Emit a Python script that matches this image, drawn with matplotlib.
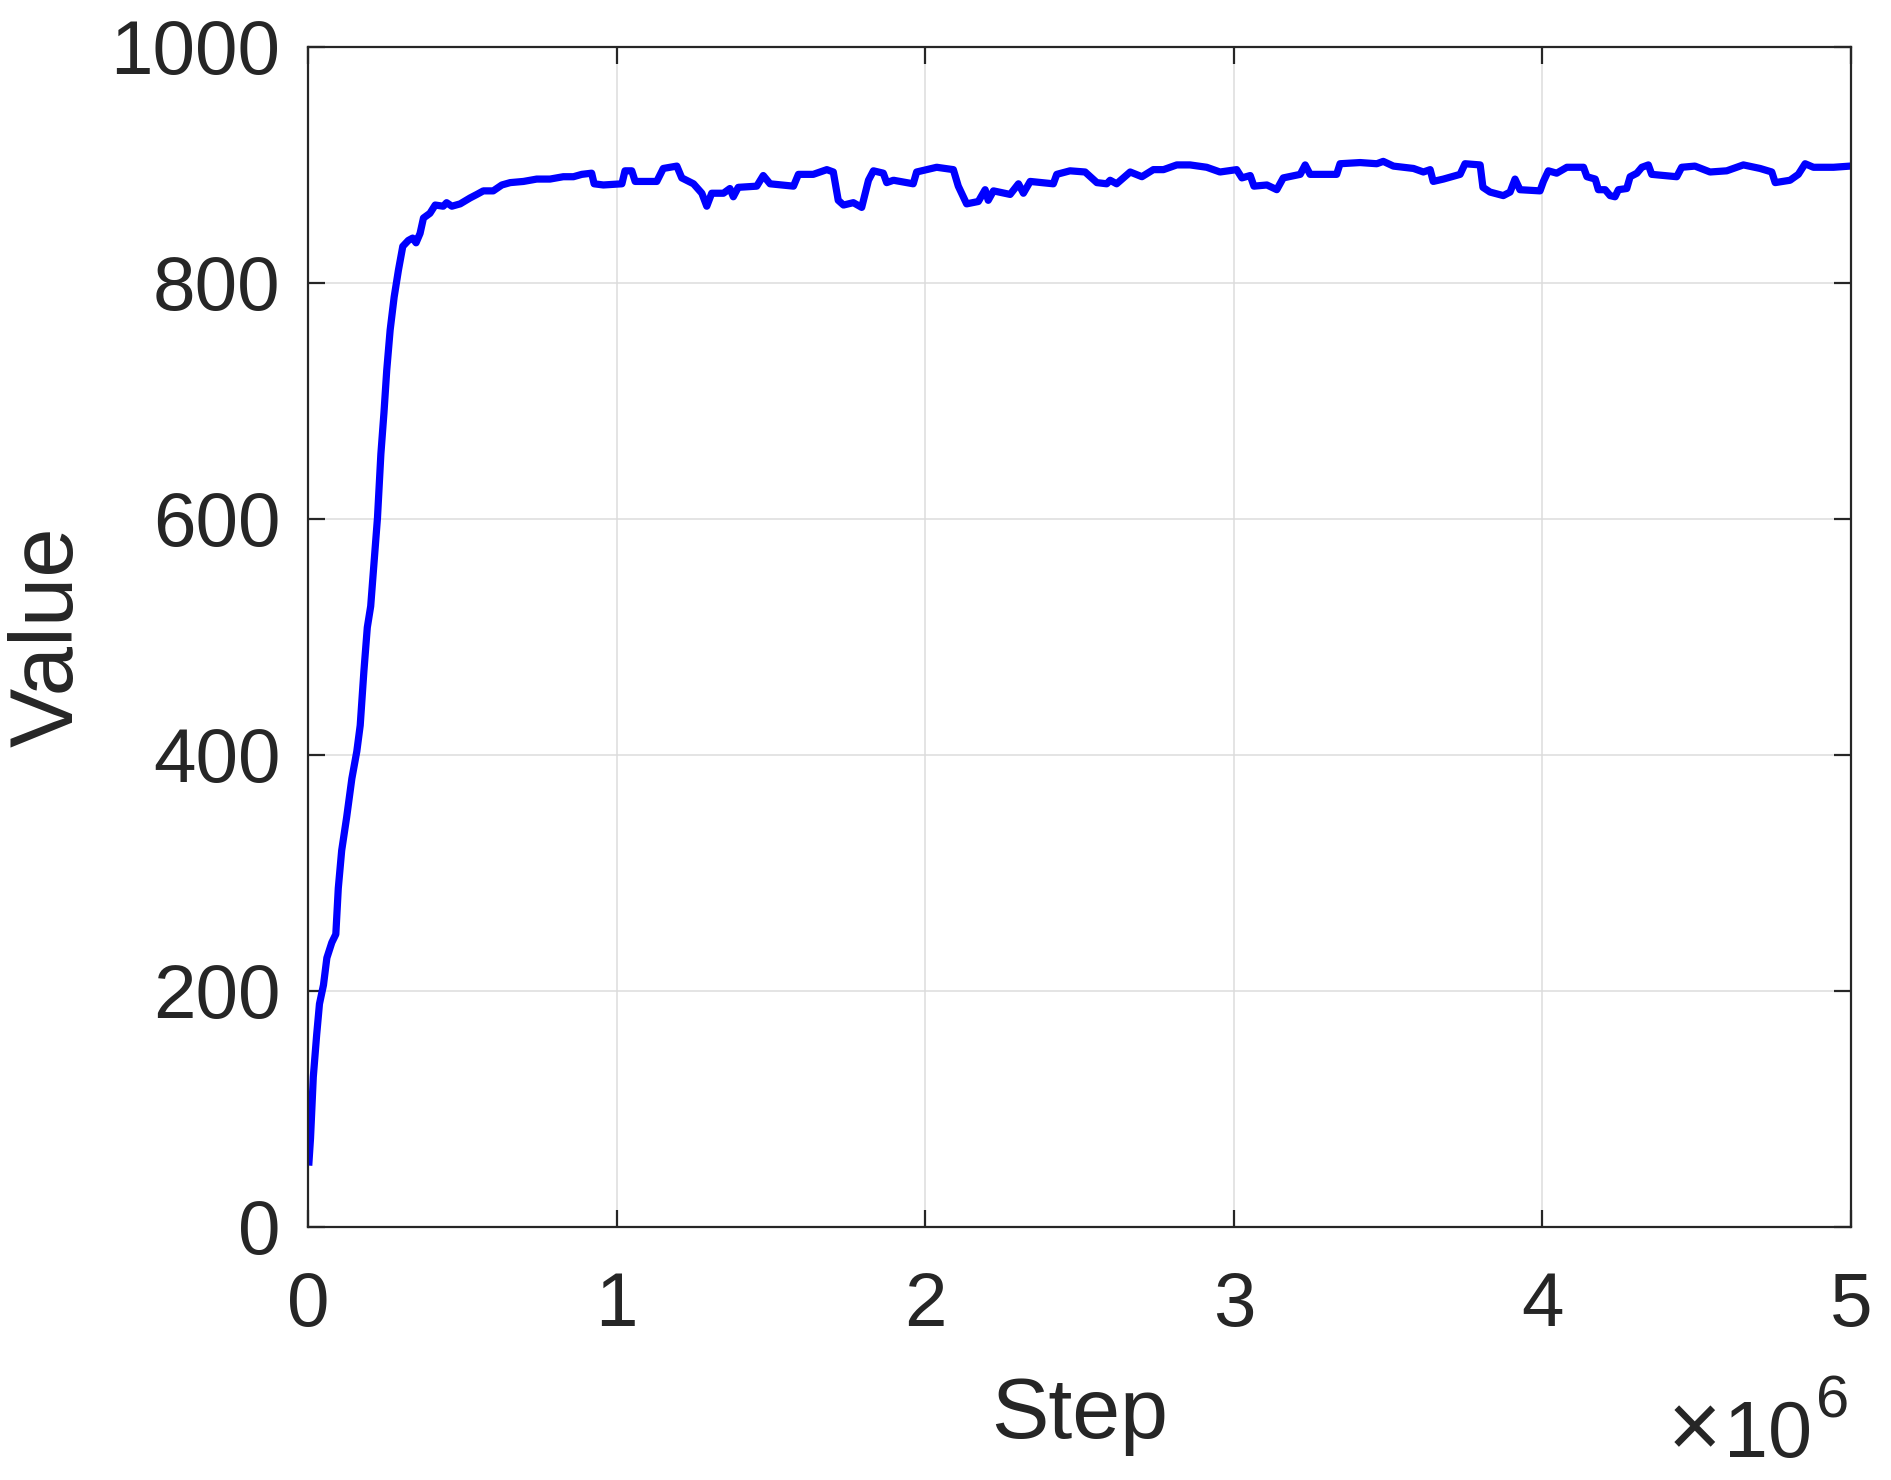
import numpy as np
import matplotlib
matplotlib.use("Agg")
import matplotlib.pyplot as plt
from matplotlib.ticker import FuncFormatter

plt.rcParams["font.family"] = ["Liberation Sans", "DejaVu Sans"]

# training curve, step in millions
step_m = [
    0.003, 0.008, 0.012, 0.017, 0.028, 0.037, 0.050, 0.061, 0.077, 0.090,
    0.098, 0.109, 0.125, 0.142, 0.158, 0.169, 0.181, 0.192, 0.203, 0.214,
    0.225, 0.236, 0.246, 0.255, 0.266, 0.279, 0.293, 0.307, 0.325, 0.339,
    0.350, 0.363, 0.374, 0.395, 0.412, 0.438, 0.449, 0.466, 0.493, 0.525,
    0.547, 0.568, 0.600, 0.628, 0.655, 0.698, 0.741, 0.784, 0.827, 0.860,
    0.887, 0.919, 0.927, 0.957, 1.017, 1.027, 1.049, 1.060, 1.130, 1.151,
    1.195, 1.211, 1.249, 1.276, 1.292, 1.308, 1.346, 1.367, 1.378, 1.394,
    1.454, 1.475, 1.497, 1.573, 1.589, 1.637, 1.681, 1.702, 1.718, 1.735,
    1.767, 1.794, 1.816, 1.832, 1.864, 1.875, 1.897, 1.961, 1.972, 2.037,
    2.091, 2.107, 2.134, 2.172, 2.194, 2.204, 2.221, 2.275, 2.302, 2.318,
    2.340, 2.415, 2.426, 2.469, 2.518, 2.556, 2.588, 2.599, 2.620, 2.664,
    2.702, 2.739, 2.772, 2.815, 2.858, 2.912, 2.955, 3.009, 3.026, 3.053,
    3.065, 3.107, 3.139, 3.160, 3.215, 3.231, 3.247, 3.333, 3.344, 3.409,
    3.463, 3.484, 3.517, 3.582, 3.614, 3.636, 3.646, 3.679, 3.733, 3.749,
    3.798, 3.807, 3.830, 3.873, 3.895, 3.911, 3.927, 3.992, 4.003, 4.019,
    4.046, 4.079, 4.133, 4.144, 4.171, 4.181, 4.203, 4.219, 4.235, 4.246,
    4.273, 4.284, 4.306, 4.322, 4.343, 4.354, 4.435, 4.451, 4.494, 4.543,
    4.597, 4.651, 4.705, 4.743, 4.754, 4.802, 4.829, 4.851, 4.878, 4.943,
    4.997,
]
value = [
    55, 75, 99, 127, 163, 189, 205, 228, 241, 248,
    287, 319, 347, 380, 403, 425, 471, 508, 526, 563,
    601, 655, 690, 726, 760, 788, 811, 831, 836, 838,
    834, 842, 855, 859, 866, 865, 868, 865, 867, 872,
    875, 878, 878, 883, 885, 886, 888, 888, 890, 890,
    892, 893, 884, 883, 884, 895, 895, 886, 886, 897,
    899, 889, 884, 876, 865, 876, 876, 880, 873, 881,
    882, 891, 884, 882, 892, 892, 896, 894, 870, 866,
    868, 864, 887, 895, 893, 885, 887, 884, 894, 898,
    896, 882, 867, 869, 879, 870, 878, 875, 884, 876,
    886, 884, 892, 895, 894, 885, 884, 887, 884, 894,
    890, 896, 896, 900, 900, 898, 894, 896, 889, 891,
    882, 883, 879, 889, 892, 900, 892, 892, 901, 902,
    901, 903, 899, 897, 894, 896, 886, 888, 892, 901,
    900, 881, 877, 874, 877, 888, 879, 878, 886, 895,
    893, 898, 898, 890, 888, 879, 879, 874, 873, 879,
    880, 890, 893, 898, 900, 892, 890, 898, 899, 894,
    895, 900, 897, 894, 885, 887, 892, 901, 898, 898,
    899,
]
x_ticks = [0, 1, 2, 3, 4, 5]
y_ticks = [0, 200, 400, 600, 800, 1000]

steps = np.array(step_m) * 1e6
text_color = "#262626"

fig = plt.figure(figsize=(18.91, 14.80), dpi=100)
ax = fig.add_axes([0.1629, 0.171, 0.8160, 0.7973])

ax.plot(steps, value, color="#0000ff", linewidth=5.2)

ax.set_xlim(0, 5e6)
ax.set_ylim(0, 1000)
ax.set_xticks([t * 1e6 for t in x_ticks])
ax.set_yticks(y_ticks)
ax.xaxis.set_major_formatter(FuncFormatter(lambda v, p: f"{v / 1e6:g}"))

ax.grid(True, color="#dcdcdc", linewidth=1.1)
ax.set_axisbelow(True)

for side in ax.spines.values():
    side.set_color(text_color)
    side.set_linewidth(1.6)

ax.tick_params(axis="both", direction="in", length=12, width=1.6,
               colors=text_color, labelsize=55, top=True, right=True)
ax.tick_params(axis="x", pad=32)
ax.tick_params(axis="y", pad=20)

ax.set_xlabel("Step", fontsize=62, color=text_color)
ax.set_ylabel("Value", fontsize=64, color=text_color)
ax.xaxis.set_label_coords(0.5, -0.126)
ax.yaxis.set_label_coords(-0.140, 0.5)

# exponent label, MATLAB style
fig.text(0.9100, 0.0155, "×", fontsize=66, color=text_color,
         ha="right", va="baseline")
fig.text(0.9582, 0.0155, "10", fontsize=57, color=text_color,
         ha="right", va="baseline")
fig.text(0.9603, 0.0419, "6", fontsize=43, color=text_color,
         ha="left", va="baseline")

fig.savefig("out.png", dpi=100)
